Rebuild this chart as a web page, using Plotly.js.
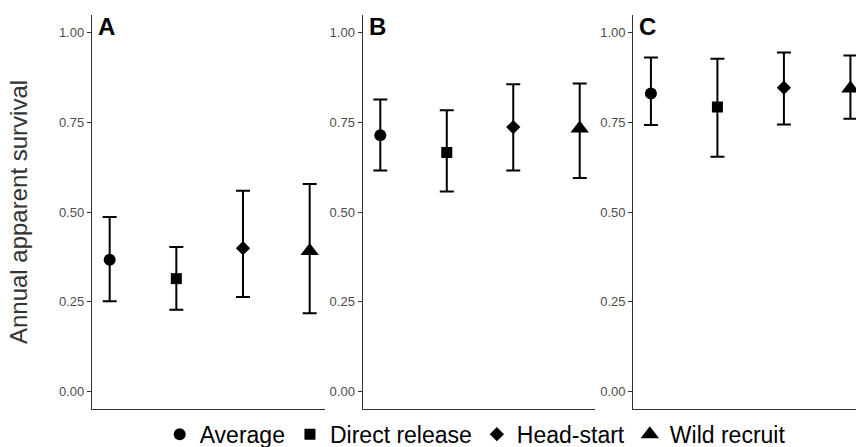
<!DOCTYPE html>
<html>
<head>
<meta charset="utf-8">
<script src="https://cdn.plot.ly/plotly-3.0.1.min.js"></script>
<style>html,body{margin:0;padding:0;background:#fff;}</style>
</head>
<body>
<div id="chart" style="width:856px;height:447px;"></div>
<script>
const categories = ['Average', 'Direct release', 'Head-start', 'Wild recruit'];
const symbols = ['circle', 'square', 'diamond', 'triangle-up'];
const markerSizes = [12, 11, 11, 16];
const panelLabels = ['A', 'B', 'C'];
const yTickVals = [0, 0.25, 0.5, 0.75, 1];
const yTickText = ['0.00', '0.25', '0.50', '0.75', '1.00'];

const estA = [0.367, 0.314, 0.399, 0.391];
const lowA = [0.251, 0.227, 0.263, 0.217];
const upA  = [0.486, 0.402, 0.559, 0.578];

const estB = [0.714, 0.666, 0.737, 0.733];
const lowB = [0.616, 0.557, 0.616, 0.595];
const upB  = [0.814, 0.784, 0.857, 0.859];

const estC = [0.831, 0.793, 0.847, 0.845];
const lowC = [0.743, 0.654, 0.744, 0.760];
const upC  = [0.931, 0.928, 0.945, 0.937];

const panels = [
  {est: estA, low: lowA, up: upA},
  {est: estB, low: lowB, up: upB},
  {est: estC, low: lowC, up: upC}
];

const traces = [];
panels.forEach((p, pi) => {
  categories.forEach((cat, ci) => {
    traces.push({
      type: 'scatter',
      mode: 'markers',
      x: [ci + 1],
      y: [p.est[ci]],
      name: cat,
      legendgroup: cat,
      showlegend: pi === 0,
      xaxis: pi === 0 ? 'x' : 'x' + (pi + 1),
      yaxis: pi === 0 ? 'y' : 'y' + (pi + 1),
      marker: {symbol: symbols[ci], size: markerSizes[ci], color: '#000'},
      error_y: {
        type: 'data', symmetric: false,
        array: [p.up[ci] - p.est[ci]],
        arrayminus: [p.est[ci] - p.low[ci]],
        color: '#000', thickness: 2, width: 7
      },
      hoverinfo: 'skip'
    });
  });
});

const L = 92, W = 856 - L;
const dom = [[0, 233 / W], [(362.7 - L) / W, (595 - L) / W], [(633.3 - L) / W, 1]];
const xr = [[0.735, 4.23], [0.735, 4.23], [0.735, 4.084]];

const layout = {
  width: 856, height: 447,
  margin: {l: L, r: 0, t: 15, b: 38, autoexpand: false},
  paper_bgcolor: '#fff', plot_bgcolor: '#fff',
  font: {family: 'Liberation Sans, Arial, sans-serif', color: '#000'},
  showlegend: true,
  legend: {
    orientation: 'h', x: 0.0886, xanchor: 'left', y: -0.064, yanchor: 'middle',
    font: {size: 23, color: '#000'}, itemclick: false, itemdoubleclick: false,
    tracegroupgap: 0, itemwidth: 30
  },
  annotations: []
};

for (let i = 0; i < 3; i++) {
  const s = i === 0 ? '' : String(i + 1);
  layout['xaxis' + s] = {
    domain: dom[i], range: xr[i], anchor: 'y' + s,
    showgrid: false, zeroline: false, showticklabels: false, ticks: '',
    showline: true, linecolor: '#333', linewidth: 1.2, fixedrange: true
  };
  const ya = {
    domain: [0, 1], range: [-0.05, 1.05], anchor: 'x' + s,
    showgrid: false, zeroline: false,
    tickvals: yTickVals, ticktext: yTickText,
    ticks: 'outside', ticklen: 4, tickcolor: '#333', tickwidth: 1,
    tickfont: {size: 13, color: '#4d4d4d'},
    showline: true, linecolor: '#333', linewidth: 1.2, fixedrange: true
  };
  if (i === 0) {
    ya.title = {text: 'Annual apparent survival', font: {size: 24, color: '#333'}, standoff: 24};
  }
  layout['yaxis' + s] = ya;
  layout.annotations.push({
    text: '<b>' + panelLabels[i] + '</b>',
    xref: 'x' + s + ' domain', yref: 'y' + s + ' domain',
    x: 0, y: 1, xanchor: 'left', yanchor: 'top',
    xshift: 4, yshift: 4, showarrow: false,
    font: {size: 24, color: '#000'}
  });
}

Plotly.newPlot('chart', traces, layout, {displayModeBar: false, staticPlot: true});
</script>
</body>
</html>
